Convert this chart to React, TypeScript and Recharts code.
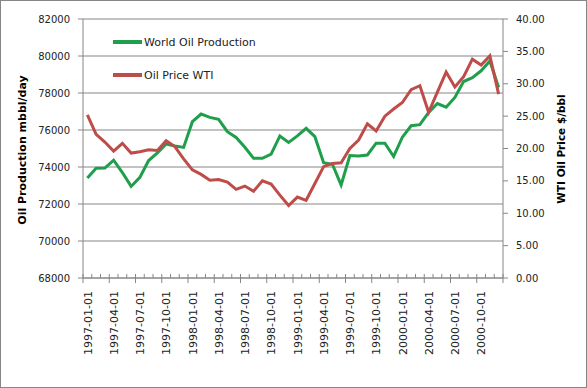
import React from 'react';
import { LineChart, Line, XAxis, YAxis, CartesianGrid, Legend } from 'recharts';

const months = [
  '1997-01-01', '1997-02-01', '1997-03-01', '1997-04-01', '1997-05-01', '1997-06-01',
  '1997-07-01', '1997-08-01', '1997-09-01', '1997-10-01', '1997-11-01', '1997-12-01',
  '1998-01-01', '1998-02-01', '1998-03-01', '1998-04-01', '1998-05-01', '1998-06-01',
  '1998-07-01', '1998-08-01', '1998-09-01', '1998-10-01', '1998-11-01', '1998-12-01',
  '1999-01-01', '1999-02-01', '1999-03-01', '1999-04-01', '1999-05-01', '1999-06-01',
  '1999-07-01', '1999-08-01', '1999-09-01', '1999-10-01', '1999-11-01', '1999-12-01',
  '2000-01-01', '2000-02-01', '2000-03-01', '2000-04-01', '2000-05-01', '2000-06-01',
  '2000-07-01', '2000-08-01', '2000-09-01', '2000-10-01', '2000-11-01', '2000-12-01',
];

const worldOilProduction = [
  73400, 73930, 73940, 74370, 73700, 72950, 73440, 74350, 74760, 75240, 75140, 75060,
  76450, 76860, 76680, 76580, 75910, 75600, 75070, 74470, 74470, 74690, 75680, 75330,
  75680, 76090, 75640, 74230, 74150, 73030, 74620, 74600, 74650, 75290, 75290, 74570,
  75610, 76230, 76290, 76950, 77430, 77230, 77760, 78620, 78830, 79200, 79730, 78300,
];

const oilPriceWTI = [
  25.2, 22.2, 21.0, 19.6, 20.8, 19.3, 19.5, 19.8, 19.7, 21.2, 20.3, 18.4,
  16.7, 16.0, 15.1, 15.2, 14.8, 13.7, 14.2, 13.4, 15.0, 14.5, 12.8, 11.2,
  12.5, 12.0, 14.6, 17.2, 17.7, 17.8, 20.0, 21.3, 23.8, 22.7, 25.0, 26.1,
  27.1, 29.1, 29.7, 25.6, 28.7, 31.8, 29.5, 31.1, 33.8, 32.9, 34.3, 28.4,
];

const productionTicks = [68000, 70000, 72000, 74000, 76000, 78000, 80000, 82000];
const priceTicks = [0, 5, 10, 15, 20, 25, 30, 35, 40];

const seriesNames = ['World Oil Production', 'Oil Price WTI'];
const seriesColors = ['#1F9E4C', '#BE4D4A'];

const data = months.map((m, i) => ({
  month: m,
  production: worldOilProduction[i],
  price: oilPriceWTI[i],
}));

const FONT = '"DejaVu Sans", Verdana, sans-serif';
const AXIS_COLOR = '#868686';
const HALF_BAND = 4.375;

const MonthTick = (props: any) => {
  const { x, y, payload, index, visibleTicksCount } = props;
  const bx = x - HALF_BAND;
  const major = index % 3 === 0;
  const last = index === visibleTicksCount - 1;
  return (
    <g>
      <line x1={bx} x2={bx} y1={y - 4} y2={y} stroke={AXIS_COLOR} />
      {major && <line x1={bx} x2={bx} y1={y} y2={y + 5} stroke={AXIS_COLOR} />}
      {last && <line x1={x + HALF_BAND} x2={x + HALF_BAND} y1={y - 4} y2={y + 5} stroke={AXIS_COLOR} />}
      {major && (
        <text
          x={x + 0.5}
          y={y + 13}
          dy="0.35em"
          transform={`rotate(-90, ${x + 0.5}, ${y + 13})`}
          textAnchor="end"
          fontSize={11}
          fontFamily={FONT}
          fill="#222"
        >
          {payload.value}
        </text>
      )}
    </g>
  );
};

const LegendContent = () => (
  <div style={{ fontFamily: FONT, fontSize: 11, color: '#222' }}>
    {seriesNames.map((name, i) => (
      <div key={name} style={{ display: 'flex', alignItems: 'center', height: 16, marginBottom: i === 0 ? 17 : 0 }}>
        <span style={{ display: 'inline-block', width: 29, height: 3.5, background: seriesColors[i], marginRight: 2 }} />
        <span>{name}</span>
      </div>
    ))}
  </div>
);

const leftTitle = () => {
  const cx = 22;
  const cy = 150;
  return (
    <text x={cx} y={cy} transform={`rotate(-90, ${cx}, ${cy})`} textAnchor="middle" dy="0.35em"
      fontFamily={FONT} fontWeight="bold" fontSize={11} fill="#000">
      Oil Production mbbl/day
    </text>
  );
};

const rightTitle = () => {
  const cx = 561;
  const cy = 149;
  return (
    <text x={cx} y={cy} transform={`rotate(-90, ${cx}, ${cy})`} textAnchor="middle" dy="0.35em"
      fontFamily={FONT} fontWeight="bold" fontSize={10.5} fill="#000">
      WTI Oil Price $/bbl
    </text>
  );
};

export default function App() {
  return (
    <div style={{ position: 'absolute', left: 0, top: 0, width: 587, height: 388, background: '#fff' }}>
      <LineChart
        width={587}
        height={388}
        data={data}
        margin={{ top: 19, right: 0, left: 0, bottom: 0 }}
        style={{ fontFamily: FONT }}
      >
        <CartesianGrid vertical={false} stroke={AXIS_COLOR} yAxisId="left" />
        <XAxis
          dataKey="month"
          interval={0}
          height={110}
          padding={{ left: HALF_BAND, right: HALF_BAND }}
          tickSize={0}
          tickMargin={0}
          tickLine={false}
          axisLine={{ stroke: AXIS_COLOR }}
          tick={<MonthTick />}
        />
        <YAxis
          yAxisId="left"
          orientation="left"
          width={83}
          domain={[68000, 82000]}
          ticks={productionTicks}
          interval={0}
          tickSize={5}
          tickMargin={8}
          axisLine={{ stroke: AXIS_COLOR }}
          tickLine={{ stroke: AXIS_COLOR }}
          tick={{ fontSize: 10, fill: '#222', fontFamily: FONT }}
          label={{ value: seriesNames[0], content: leftTitle }}
        />
        <YAxis
          yAxisId="right"
          orientation="right"
          width={84}
          domain={[0, 40]}
          ticks={priceTicks}
          interval={0}
          tickSize={5}
          tickMargin={8}
          tickFormatter={(v: number) => v.toFixed(2)}
          axisLine={{ stroke: AXIS_COLOR }}
          tickLine={{ stroke: AXIS_COLOR }}
          tick={{ fontSize: 10, fill: '#222', fontFamily: FONT }}
          label={{ value: seriesNames[1], content: rightTitle }}
        />
        <Legend
          layout="vertical"
          align="center"
          verticalAlign="middle"
          content={<LegendContent />}
          wrapperStyle={{ left: 113, top: 34, width: 'auto', height: 'auto' }}
        />
        <Line
          yAxisId="left"
          type="linear"
          dataKey="production"
          name={seriesNames[0]}
          stroke={seriesColors[0]}
          strokeWidth={3}
          dot={false}
          activeDot={false}
          isAnimationActive={false}
        />
        <Line
          yAxisId="right"
          type="linear"
          dataKey="price"
          name={seriesNames[1]}
          stroke={seriesColors[1]}
          strokeWidth={3}
          dot={false}
          activeDot={false}
          isAnimationActive={false}
        />
      </LineChart>
      <div style={{ position: 'absolute', left: 0, top: 0, width: 587, height: 388, boxSizing: 'border-box', border: '1px solid #868686', pointerEvents: 'none' }} />
    </div>
  );
}
